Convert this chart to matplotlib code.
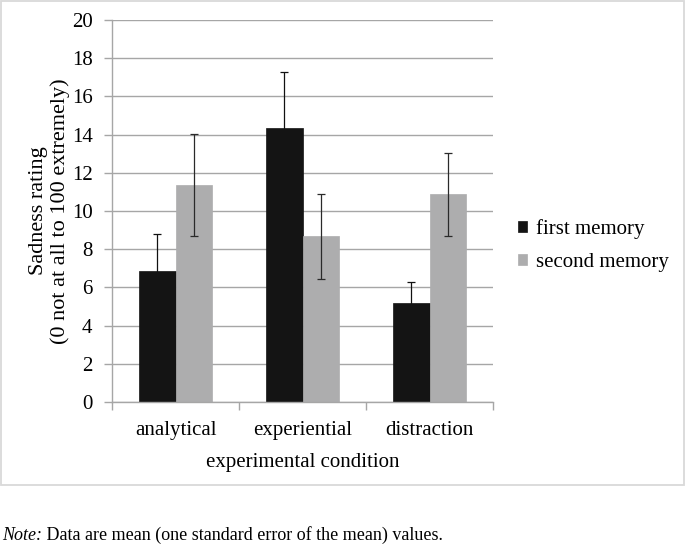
import matplotlib
matplotlib.use("Agg")
import matplotlib.pyplot as plt
from matplotlib.patches import Rectangle
import numpy as np

categories = ["analytical", "experiential", "distraction"]
first_memory = [6.87, 14.33, 5.20]
first_err = [1.94, 2.96, 1.08]
second_memory = [11.36, 8.67, 10.87]
second_err = [2.65, 2.21, 2.18]
yticks = [0, 2, 4, 6, 8, 10, 12, 14, 16, 18, 20]

plt.rcParams['font.family'] = ['Liberation Serif', 'DejaVu Serif']
FS = 15

fig = plt.figure(figsize=(6.85, 5.46), dpi=100)
W, H = 685, 546
ax = fig.add_axes([112 / W, 1 - 402 / H, (493 - 112) / W, (402 - 20) / H])

fig.patches.append(Rectangle((0.5 / W, 1 - 485 / H), 683.5 / W, 484 / H,
                             transform=fig.transFigure, fill=False,
                             edgecolor='#d9d9d9', linewidth=1.3))

x = np.arange(len(categories))
w = 0.286
gridc = '#a6a6a6'
ax.set_axisbelow(True)
ax.yaxis.grid(True, color=gridc, linewidth=1.0)

ax.bar(x - w / 2, first_memory, w, color='#141414', edgecolor='#141414',
       linewidth=0.5, label='first memory', zorder=2)
ax.bar(x + w / 2, second_memory, w, color='#adadae', edgecolor='#adadae',
       linewidth=0.5, label='second memory', zorder=2)
ax.errorbar(x - w / 2, first_memory, yerr=first_err, fmt='none', ecolor='#111111',
            elinewidth=0.9, capsize=3, capthick=0.9, zorder=1.5)
ax.errorbar(x + w / 2, second_memory, yerr=second_err, fmt='none', ecolor='#2a2a2a',
            elinewidth=0.9, capsize=3, capthick=0.9, zorder=3)

ax.set_xlim(-0.5, 2.5)
ax.set_ylim(0, 20)
ax.set_yticks(yticks)
ax.set_yticklabels([str(t) for t in yticks], fontsize=FS)

ax.set_xticks([-0.5, 0.5, 1.5, 2.5])
ax.set_xticklabels([])
ax.set_xticks(x, minor=True)
ax.set_xticklabels(categories, minor=True, fontsize=FS)
ax.tick_params(axis='x', which='minor', length=0, pad=14)
ax.tick_params(axis='x', which='major', length=6, color=gridc, width=1)
ax.tick_params(axis='y', length=6, color=gridc, width=1, pad=8)

for s in ['top', 'right']:
    ax.spines[s].set_visible(False)
for s in ['left', 'bottom']:
    ax.spines[s].set_color(gridc)
    ax.spines[s].set_linewidth(1.0)

ax.set_xlabel('experimental condition', fontsize=FS, labelpad=9)
ax.set_ylabel('Sadness rating\n(0 not at all to 100 extremely)', fontsize=16,
              labelpad=1, linespacing=1.2)

leg = ax.legend(loc='center left', bbox_to_anchor=(1.017, 0.41), frameon=False,
                fontsize=FS, handlelength=0.42, handleheight=0.42,
                handletextpad=0.45, labelspacing=0.65)

ny = 1 - 535 / H
t1 = fig.text(0.003, ny, 'Note:', fontsize=13, va='center', style='italic')
fig.canvas.draw()
bb = t1.get_window_extent()
fig.text(bb.x1 / fig.bbox.width, ny,
         ' Data are mean (one standard error of the mean) values.',
         fontsize=13, va='center')

fig.savefig('out.png', dpi=100)
